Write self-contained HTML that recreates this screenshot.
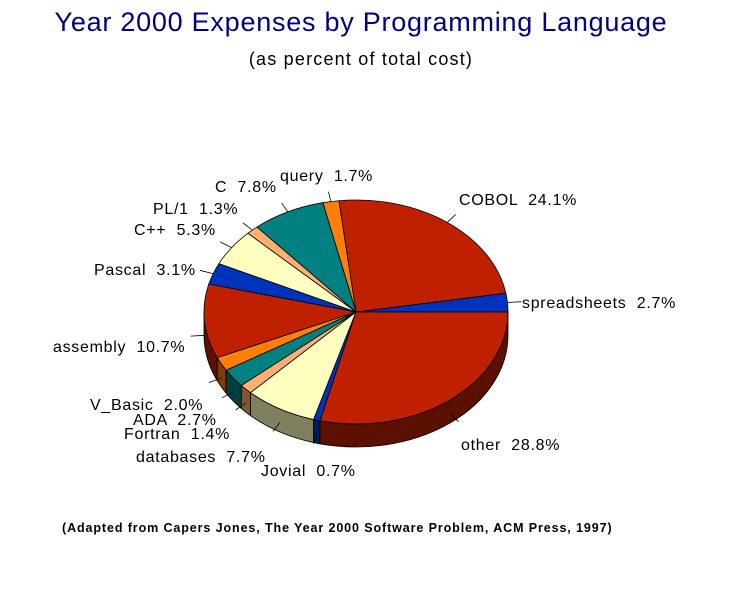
<!DOCTYPE html>
<html><head><meta charset="utf-8"><style>
body{margin:0;background:#fff;width:751px;height:602px;overflow:hidden}
svg{display:block}
text{font-family:"Liberation Sans",Arial,sans-serif;white-space:pre}
</style></head><body>
<svg id="s" width="751" height="602" viewBox="0 0 751 602" xmlns="http://www.w3.org/2000/svg" xml:space="preserve">
<rect width="751" height="602" fill="#fff"/>
<text x="361" y="31" font-size="27" fill="#000080" text-anchor="middle" letter-spacing="0.75">Year 2000 Expenses by Programming Language</text>
<text x="361" y="65" font-size="18" fill="#000" text-anchor="middle" letter-spacing="1.2">(as percent of total cost)</text>
<text x="62" y="532" font-size="12.5" font-weight="bold" fill="#000" letter-spacing="0.9">(Adapted from Capers Jones, The Year 2000 Software Problem, ACM Press, 1997)</text>
<g id="pie"></g>
<g id="lab" font-size="16" fill="#000" letter-spacing="0.7"></g>
</svg>
<script>
var cx=356,cy=312,rx=152,ry=112,d=23;
var R=["#BF2000","#5C1000"],B=["#0033BB","#001A60"],O=["#FF7F0A","#803C00"],T=["#008080","#004040"],L=["#FFB070","#805830"],Y=["#FFFFC0","#808060"];
var data=[
["spreadsheets  2.7%",2.7,B,522,308],
["COBOL  24.1%",24.1,R,459,205],
["query  1.7%",1.7,O,280,181],
["C  7.8%",7.8,T,215,192],
["PL/1  1.3%",1.3,L,153,214],
["C++  5.3%",5.3,Y,134,235],
["Pascal  3.1%",3.1,B,94,275],
["assembly  10.7%",10.7,R,53,352],
["V_Basic  2.0%",2.0,O,90,410],
["ADA  2.7%",2.7,T,133,425],
["Fortran  1.4%",1.4,L,124,439],
["databases  7.7%",7.7,Y,136,462],
["Jovial  0.7%",0.7,B,261,476],
["other  28.8%",28.8,R,461,450]];
function P(a,dy){return [cx+rx*Math.cos(a),cy-ry*Math.sin(a)+(dy||0)];}
var pie=document.getElementById('pie'),lab=document.getElementById('lab');
var ns="http://www.w3.org/2000/svg";
function el(t,at,p){var e=document.createElementNS(ns,t);for(var k in at)e.setAttribute(k,at[k]);(p||pie).appendChild(e);return e;}
var a=0,angs=[];
data.forEach(function(s){var a2=a+s[1]/100*2*Math.PI;angs.push([a,a2]);a=a2;});
data.forEach(function(s,i){var a1=angs[i][0],a2=angs[i][1];
 var s1=Math.max(a1,Math.PI),s2=Math.min(a2,2*Math.PI);
 if(s2>s1){var p1=P(s1),p2=P(s2),p3=P(s2,d),p4=P(s1,d);
  el('path',{d:"M"+p1+" A"+rx+" "+ry+" 0 0 0 "+p2+" L"+p3+" A"+rx+" "+ry+" 0 0 1 "+p4+" Z",fill:s[2][1],stroke:"#000","stroke-width":"0.8"});}
});
data.forEach(function(s,i){var a1=angs[i][0],a2=angs[i][1];var p1=P(a1),p2=P(a2);
 var large=(a2-a1)>Math.PI?1:0;
 el('path',{d:"M"+cx+","+cy+" L"+p1+" A"+rx+" "+ry+" 0 "+large+" 0 "+p2+" Z",fill:s[2][0],stroke:"#000","stroke-width":"0.8"});
 var m=(a1+a2)/2,q=P(m);if(Math.sin(m)<0)q[1]+=d*0.6;
 var ux=Math.cos(m),uy=-Math.sin(m);
 var e=[q[0]+ux*14,q[1]+uy*10];
 el('line',{x1:q[0],y1:q[1],x2:e[0],y2:e[1],stroke:"#000","stroke-width":"0.8"});
 var t=el('text',{x:s[3],y:s[4]},lab);t.textContent=s[0];
});
</script>
</body></html>
